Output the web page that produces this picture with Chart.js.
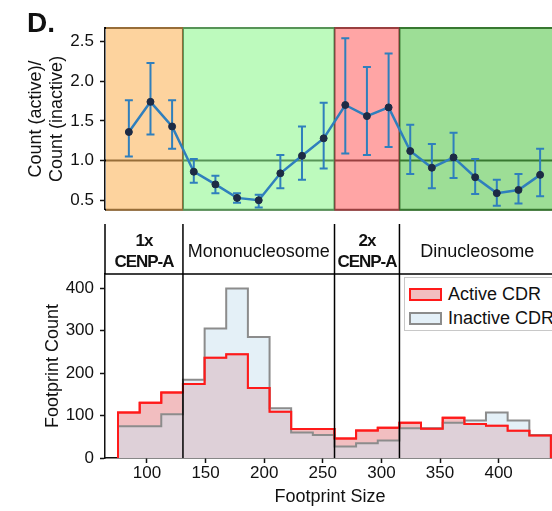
<!DOCTYPE html>
<html>
<head>
<meta charset="utf-8">
<script src="https://cdn.jsdelivr.net/npm/chart.js@4/dist/chart.umd.min.js"></script>
<style>
html,body{margin:0;padding:0;background:#fff;overflow:hidden;width:552px;height:511px;}
#wrap{position:relative;width:560px;height:511px;font-family:"Liberation Sans",Arial,sans-serif;color:#111;overflow:hidden;}
#c1{position:absolute;left:0;top:0;}
#c2{position:absolute;left:0;top:224px;}
.letter{position:absolute;left:27px;top:9px;font-weight:bold;font-size:28px;line-height:28px;}
.band{position:absolute;top:226px;height:50px;display:flex;flex-direction:column;justify-content:center;align-items:center;text-align:center;font-size:18px;line-height:21px;white-space:nowrap;}
.band.bold{font-weight:bold;font-size:17px;letter-spacing:-1px;}
.legend{position:absolute;left:404px;top:277px;width:152px;height:52px;border:1px solid #c8c8c8;background:#fff;}
.legend .patch{position:absolute;left:4px;width:29px;height:9px;border-width:2px;border-style:solid;}
.legend .txt{position:absolute;left:43px;font-size:18px;line-height:20px;white-space:nowrap;}
</style>
</head>
<body>
<div id="wrap">
  <canvas id="c1" width="560" height="226"></canvas>
  <canvas id="c2" width="560" height="287"></canvas>
  <div class="letter">D.</div>
</div>
<script>
// ---------------- data ----------------
const binEdges = [75.3, 93.8, 112.2, 130.7, 149.2, 167.6, 186.1, 204.6, 223.0, 241.5, 260.0,
                  278.4, 296.9, 315.4, 333.8, 352.3, 370.8, 389.2, 407.7, 426.2, 444.6];
const ratio      = [1.36, 1.74, 1.43, 0.86, 0.70, 0.53, 0.50, 0.84, 1.06, 1.28,
                    1.70, 1.56, 1.67, 1.12, 0.91, 1.04, 0.79, 0.59, 0.63, 0.82];
const ratioUpper = [1.76, 2.23, 1.76, 1.02, 0.81, 0.59, 0.57, 1.07, 1.43, 1.73,
                    2.54, 2.18, 2.35, 1.45, 1.21, 1.35, 1.02, 0.76, 0.83, 1.15];
const ratioLower = [1.05, 1.33, 1.15, 0.72, 0.59, 0.47, 0.41, 0.65, 0.76, 0.90,
                    1.09, 1.07, 1.17, 0.83, 0.65, 0.78, 0.58, 0.43, 0.46, 0.55];
const activeCounts   = [107, 130, 154, 174, 236, 244, 165, 109, 68, 68,
                        46, 65, 71, 83, 69, 95, 80, 76, 64, 53];
const inactiveCounts = [75, 75, 103, 184, 305, 399, 285, 117, 60, 54,
                        27, 35, 41, 70, 70, 83, 88, 107, 88, 54];
const regionBounds = [130.7, 260.0, 315.4];
const regionLabels = [["1x", "CENP-A"], ["Mononucleosome"], ["2x", "CENP-A"], ["Dinucleosome"]];
const seriesNames = ["Active CDR", "Inactive CDR"];
const sizeTicks  = [100, 150, 200, 250, 300, 350, 400];
const countTicks = [0, 100, 200, 300, 400];
const ratioTicks = [0.5, 1.0, 1.5, 2.0, 2.5];
const refRatio = 1.0;

// ---------------- styles ----------------
const X_MIN = 64.2, X_MAX = 448.1;
const regionFill = ['rgba(252,182,93,0.6)', 'rgba(145,247,145,0.6)', 'rgba(255,105,105,0.6)', 'rgba(92,200,80,0.6)'];
const regionBold = [true, false, true, false];
const seriesFill = ['rgb(242,190,192)', 'rgba(201,225,240,0.5)'];
const seriesLegendFill = ['rgb(242,190,192)', 'rgb(228,240,248)'];
const seriesLine = ['#ff1a1a', '#8c8c8c'];
const blue = '#2f7fbd';
const ink = '#111';

Chart.defaults.font.family = '"Liberation Sans", Arial, sans-serif';
Chart.defaults.color = ink;

const centers = ratio.map((_, i) => (binEdges[i] + binEdges[i + 1]) / 2);

const regionPlugin = {
  id: 'regions',
  beforeDatasetsDraw(chart) {
    const {ctx, chartArea: a, scales: {x, y}} = chart;
    const xs = [a.left, ...regionBounds.map(v => x.getPixelForValue(v)), a.right];
    ctx.save();
    ctx.strokeStyle = '#000';
    ctx.lineWidth = 2;
    ctx.beginPath();
    const yr = y.getPixelForValue(refRatio);
    ctx.moveTo(a.left, yr); ctx.lineTo(a.right, yr);
    ctx.moveTo(a.left, a.top); ctx.lineTo(a.right, a.top);
    ctx.moveTo(a.left, a.bottom); ctx.lineTo(a.right, a.bottom);
    xs.slice(1, -1).forEach(px => { ctx.moveTo(px, a.top); ctx.lineTo(px, a.bottom); });
    ctx.stroke();
    for (let i = 0; i < regionFill.length; i++) {
      ctx.fillStyle = regionFill[i];
      const l = i === 0 ? xs[i] + 1 : xs[i];
      ctx.fillRect(l, a.top - 1, xs[i + 1] - l, a.bottom - a.top + 2);
    }
    ctx.restore();
  }
};

const errorBarPlugin = {
  id: 'errbars',
  beforeDatasetsDraw(chart) {
    const {ctx, scales: {x, y}} = chart;
    ctx.save();
    ctx.strokeStyle = blue;
    ctx.lineWidth = 2;
    ratio.forEach((_, i) => {
      const px = x.getPixelForValue(centers[i]);
      const yt = y.getPixelForValue(ratioUpper[i]);
      const yb = y.getPixelForValue(ratioLower[i]);
      ctx.beginPath();
      ctx.moveTo(px, yt); ctx.lineTo(px, yb);
      ctx.moveTo(px - 4, yt); ctx.lineTo(px + 4, yt);
      ctx.moveTo(px - 4, yb); ctx.lineTo(px + 4, yb);
      ctx.stroke();
    });
    ctx.restore();
  }
};

const topChart = new Chart(document.getElementById('c1'), {
  type: 'line',
  data: {
    datasets: [{
      data: ratio.map((v, i) => ({x: centers[i], y: v})),
      borderColor: blue, borderWidth: 2.5, tension: 0, fill: false,
      pointRadius: 3.5, pointBackgroundColor: '#1d2b45', pointBorderColor: '#1d2b45', pointBorderWidth: 1
    }]
  },
  options: {
    responsive: false, animation: false, devicePixelRatio: 1,
    layout: {padding: {top: 28, bottom: 3, left: 0, right: 5}},
    plugins: {legend: {display: false}, tooltip: {enabled: false}},
    scales: {
      x: {type: 'linear', display: false, min: X_MIN, max: X_MAX, bounds: 'data'},
      y: {
        type: 'linear', min: 0.38, max: 2.67, bounds: 'data',
        afterBuildTicks: s => { s.ticks = ratioTicks.map(v => ({value: v})); },
        afterFit: s => { s.width = 105; },
        ticks: {callback: v => Number(v).toFixed(1), font: {size: 17}, color: ink, padding: 6},
        grid: {drawOnChartArea: false, drawTicks: true, tickLength: 5, tickColor: ink, tickWidth: 1.5},
        border: {display: true, color: ink, width: 1.5},
        title: {display: true, text: ['Count (active)/', 'Count (inactive)'], font: {size: 18}, color: ink, padding: {top: 25, bottom: 0}}
      }
    }
  },
  plugins: [regionPlugin, errorBarPlugin]
});

function histPoints(vals) {
  const pts = [{x: binEdges[0], y: 0}];
  vals.forEach((v, i) => pts.push({x: binEdges[i], y: v}));
  pts.push({x: binEdges[vals.length], y: vals[vals.length - 1]});
  pts.push({x: binEdges[vals.length], y: 0});
  return pts;
}

const bandPlugin = {
  id: 'band',
  afterDatasetsDraw(chart) {
    const {ctx, chartArea: a, scales: {x}} = chart;
    ctx.save();
    ctx.strokeStyle = '#000';
    ctx.lineWidth = 1.5;
    ctx.beginPath();
    ctx.moveTo(a.left, a.top); ctx.lineTo(a.right, a.top);
    ctx.moveTo(a.left, 0); ctx.lineTo(a.left, a.top);
    regionBounds.forEach(v => {
      const px = x.getPixelForValue(v);
      ctx.moveTo(px, 0); ctx.lineTo(px, a.bottom);
    });
    ctx.stroke();
    ctx.restore();
  }
};

const bottomChart = new Chart(document.getElementById('c2'), {
  type: 'line',
  data: {
    datasets: [
      {label: seriesNames[0], data: histPoints(activeCounts), stepped: true, fill: 'origin',
       backgroundColor: seriesFill[0], borderColor: seriesLine[0], borderWidth: 2, pointRadius: 0, order: 3},
      {label: seriesNames[1], data: histPoints(inactiveCounts), stepped: true, fill: 'origin',
       backgroundColor: seriesFill[1], borderColor: seriesLine[1], borderWidth: 2, pointRadius: 0, order: 2},
      {label: seriesNames[0] + ' outline', data: histPoints(activeCounts), stepped: true, fill: false,
       borderColor: seriesLine[0], borderWidth: 2, pointRadius: 0, order: 1}
    ]
  },
  options: {
    responsive: false, animation: false, devicePixelRatio: 1,
    layout: {padding: {top: 50, bottom: 0, left: 0, right: 5}},
    plugins: {legend: {display: false}, tooltip: {enabled: false}},
    scales: {
      x: {
        type: 'linear', min: X_MIN, max: X_MAX, bounds: 'data',
        afterBuildTicks: s => { s.ticks = sizeTicks.map(v => ({value: v})); },
        afterFit: s => { s.height = 53; },
        ticks: {font: {size: 17}, color: ink, padding: 0, maxRotation: 0, autoSkip: false},
        grid: {drawOnChartArea: false, tickLength: 5, tickColor: ink, tickWidth: 1.5},
        border: {display: true, color: ink, width: 1.5},
        title: {display: true, text: 'Footprint Size', font: {size: 18}, color: ink, padding: {top: 0, bottom: 3}}
      },
      y: {
        type: 'linear', min: 0, max: 433, bounds: 'data',
        afterBuildTicks: s => { s.ticks = countTicks.map(v => ({value: v})); },
        afterFit: s => { s.width = 105; },
        ticks: {font: {size: 17}, color: ink, padding: 6},
        grid: {drawOnChartArea: false, tickLength: 5, tickColor: ink, tickWidth: 1.5},
        border: {display: true, color: ink, width: 1.5},
        title: {display: true, text: 'Footprint Count', font: {size: 18}, color: ink, padding: {top: 42, bottom: 0}}
      }
    }
  },
  plugins: [bandPlugin]
});

// ---------- region label band (HTML text, positioned with the x scale) ----------
const wrap = document.getElementById('wrap');
(function () {
  const a = bottomChart.chartArea, x = bottomChart.scales.x;
  const xs = [a.left, ...regionBounds.map(v => x.getPixelForValue(v)), a.right];
  regionLabels.forEach((lines, i) => {
    const d = document.createElement('div');
    d.className = 'band' + (regionBold[i] ? ' bold' : '');
    d.style.left = xs[i] + 'px';
    d.style.width = (xs[i + 1] - xs[i]) + 'px';
    lines.forEach(t => { const s = document.createElement('div'); s.textContent = t; d.appendChild(s); });
    wrap.appendChild(d);
  });
  // legend
  const lg = document.createElement('div');
  lg.className = 'legend';
  seriesNames.forEach((name, i) => {
    const p = document.createElement('div');
    p.className = 'patch';
    p.style.top = (10 + i * 24) + 'px';
    p.style.background = seriesLegendFill[i];
    p.style.borderColor = seriesLine[i];
    const t = document.createElement('div');
    t.className = 'txt';
    t.style.top = (6 + i * 24) + 'px';
    t.textContent = name;
    lg.appendChild(p); lg.appendChild(t);
  });
  wrap.appendChild(lg);
})();
</script>
</body>
</html>
